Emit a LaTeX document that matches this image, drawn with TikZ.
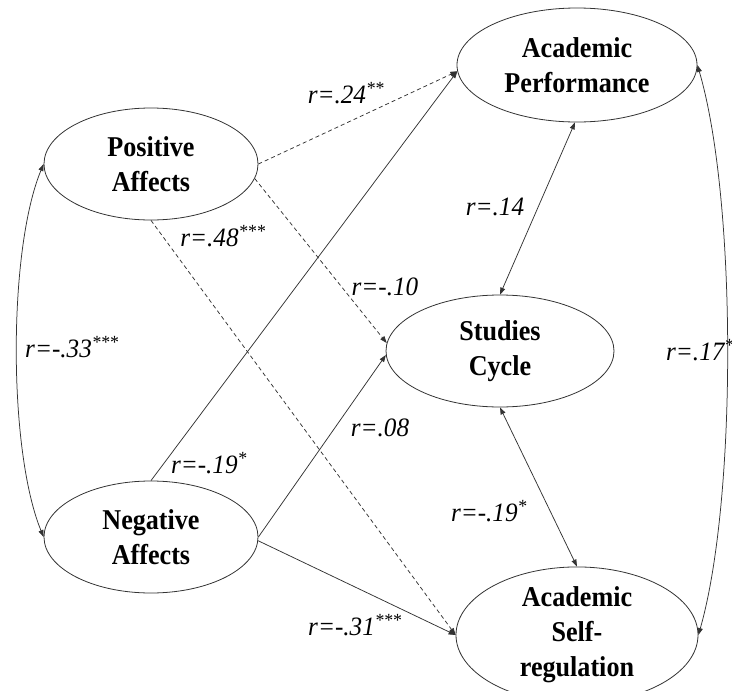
\documentclass[tikz,border=0pt]{standalone}
\usepackage{fontspec}
\setmainfont{Liberation Serif}
\newfontfamily\boxfont[FakeStretch=0.91]{Liberation Serif}
\newfontfamily\labfont[FakeStretch=0.95]{Liberation Serif}
\usetikzlibrary{shapes.geometric,arrows.meta}
\begin{document}
\begin{tikzpicture}[x=1pt,y=-1pt,
  latent/.style={draw=black!80,line width=0.8pt,ellipse,inner sep=0pt,align=center,
    font=\boxfont\fontsize{28.7}{35}\selectfont\bfseries},
  coef/.style={font=\labfont\fontsize{26.5}{28}\selectfont\itshape,inner sep=0pt},
  link/.style={draw=black!80,line width=0.75pt,-{Triangle[length=7pt,width=5pt]}},
  dlink/.style={link,dash pattern=on 4pt off 3pt},
  both/.style={draw=black!80,line width=0.75pt,{Triangle[length=7pt,width=5pt]}-{Triangle[length=7pt,width=5pt]}}
]
\useasboundingbox (0,0) rectangle (732,691);
\node[latent,minimum width=214pt,minimum height=112pt] (PA) at (151,164) {Positive\\Affects};
\node[latent,minimum width=214pt,minimum height=112pt] (NA) at (151,537) {Negative\\Affects};
\node[latent,minimum width=240pt,minimum height=114pt] (AP) at (577,65) {Academic\\Performance};
\node[latent,minimum width=228pt,minimum height=112pt] (SC) at (500,351) {Studies\\Cycle};
\node[latent,minimum width=242pt,minimum height=114pt] (ASR) at (577,635) {Academic\\Self-\\regulation};

\draw[dlink] (PA.east) -- (AP.183);
\draw[link] (NA.north) -- (AP.183);
\draw[dlink] (PA.352) -- (SC.176);
\draw[link] (NA.east) -- (SC.182);
\draw[dlink] (PA.south) -- (ASR.180);
\draw[link] (NA.358) -- (ASR.180);
\draw[both] (AP.268) -- (SC.north);
\draw[both] (SC.south) -- (ASR.north);
\draw[both] (PA.west) .. controls (8,250) and (8,450) .. (NA.west);
\draw[both] (AP.east) .. controls (737,200) and (737,500) .. (ASR.east);

\node[coef] (l24) at (346,93) {r=.24\textsuperscript{**}};
\node[coef] (l48) at (223,236) {r=.48\textsuperscript{***}};
\node[coef] (l10) at (385,287) {r=-.10};
\node[coef] (l14) at (495,207) {r=.14};
\node[coef] (l33) at (72,347) {r=-.33\textsuperscript{***}};
\node[coef,anchor=west] (l17) at (666,350) {r=.17\textsuperscript{*}};
\node[coef] (l08) at (380,428) {r=.08};
\node[coef] (l19a) at (209,463) {r=-.19\textsuperscript{*}};
\node[coef] (l19b) at (489,511) {r=-.19\textsuperscript{*}};
\node[coef] (l31) at (355,625) {r=-.31\textsuperscript{***}};
\end{tikzpicture}
\end{document}
